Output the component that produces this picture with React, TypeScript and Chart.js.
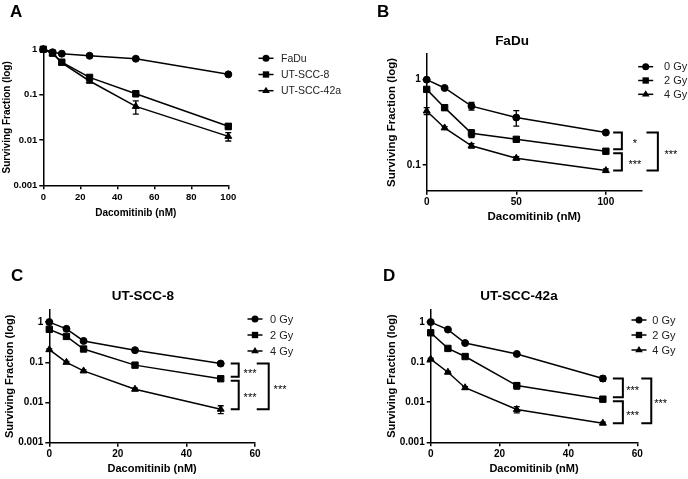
import React, { useEffect, useRef } from "react";
import { Chart, registerables } from "chart.js";
Chart.register(...registerables);

const FONT = "'Liberation Sans', Arial, sans-serif";

// ---------- Panel A ----------
const doseA = [0, 5, 10, 25, 50, 100];
const faduA = [1, 0.86, 0.8, 0.72, 0.62, 0.28];
const faduAErr = [0, 0, 0, 0.02, 0.02, 0.01];
const utscc8A = [1, 0.82, 0.52, 0.24, 0.105, 0.02];
const utscc8AErr = [0, 0.03, 0.03, 0.02, 0.015, 0.003];
const utscc42aA = [1, 0.82, 0.5, 0.2, 0.055, 0.012];
const utscc42aAErr = [0, 0.03, 0.03, 0.02, 0.018, 0.0025];
const cellLinesA = ["FaDu", "UT-SCC-8", "UT-SCC-42a"];
const xTicksA = [0, 20, 40, 60, 80, 100];
const yTicks3 = [0.001, 0.01, 0.1, 1];

// ---------- Panel B (FaDu) ----------
const doseB = [0, 10, 25, 50, 100];
const b0Gy = [1, 0.8, 0.49, 0.36, 0.24];
const b0GyErr = [0, 0.02, 0.05, 0.075, 0.01];
const b2Gy = [0.77, 0.47, 0.235, 0.2, 0.145];
const b2GyErr = [0, 0.03, 0.025, 0.01, 0.008];
const b4Gy = [0.43, 0.272, 0.168, 0.12, 0.086];
const b4GyErr = [0.04, 0.01, 0.01, 0.005, 0.004];
const xTicksB = [0, 50, 100];
const yTicksB = [0.1, 1];
const sigB = ["*", "***", "***"];

// ---------- Panel C (UT-SCC-8) ----------
const doseCD = [0, 5, 10, 25, 50];
const c0Gy = [1, 0.68, 0.34, 0.2, 0.093];
const c0GyErr = [0, 0.03, 0.02, 0.01, 0.006];
const c2Gy = [0.66, 0.44, 0.214, 0.085, 0.039];
const c2GyErr = [0.05, 0.03, 0.015, 0.006, 0.003];
const c4Gy = [0.206, 0.1, 0.061, 0.0214, 0.0068];
const c4GyErr = [0.01, 0.006, 0.004, 0.0015, 0.0015];
const sigC = ["***", "***", "***"];

// ---------- Panel D (UT-SCC-42a) ----------
const d0Gy = [1, 0.65, 0.3, 0.16, 0.039];
const d0GyErr = [0, 0.03, 0.015, 0.01, 0.006];
const d2Gy = [0.54, 0.22, 0.138, 0.026, 0.0119];
const d2GyErr = [0.03, 0.015, 0.01, 0.0047, 0.0008];
const d4Gy = [0.119, 0.056, 0.023, 0.0066, 0.003];
const d4GyErr = [0.006, 0.003, 0.0015, 0.0012, 0.0002];
const sigD = ["***", "***", "***"];

const doseLabels = ["0 Gy", "2 Gy", "4 Gy"];
const xTicksCD = [0, 20, 40, 60];

const markerStyles = ["circle", "rect", "triangle"];
const markerRadius = [3.5, 4.5, 4];

function drawMarker(ctx, style, x, y, r) {
  ctx.beginPath();
  if (style === "circle") {
    ctx.arc(x, y, r, 0, Math.PI * 2);
  } else if (style === "rect") {
    const s = r * Math.SQRT1_2;
    ctx.rect(x - s, y - s, 2 * s, 2 * s);
  } else {
    ctx.moveTo(x, y - r);
    ctx.lineTo(x + r * 0.87 * 1.1, y + r * 0.5 * 1.1);
    ctx.lineTo(x - r * 0.87 * 1.1, y + r * 0.5 * 1.1);
    ctx.closePath();
  }
  ctx.fill();
}

const decorPlugin = {
  id: "decor",
  afterDatasetsDraw(chart) {
    const ctx = chart.ctx;
    const o = chart.options.plugins.decor;
    const xs = chart.scales.x;
    const ys = chart.scales.y;
    ctx.save();
    // error bars
    ctx.strokeStyle = "#000";
    ctx.lineWidth = 1.3;
    chart.data.datasets.forEach((ds) => {
      (ds.errors || []).forEach((e, i) => {
        if (!e) return;
        const p = ds.data[i];
        const px = xs.getPixelForValue(p.x);
        const y1 = ys.getPixelForValue(p.y + e);
        const y2 = ys.getPixelForValue(Math.max(p.y - e, 1e-6));
        ctx.beginPath();
        ctx.moveTo(px, y1);
        ctx.lineTo(px, y2);
        ctx.moveTo(px - 3, y1);
        ctx.lineTo(px + 3, y1);
        ctx.moveTo(px - 3, y2);
        ctx.lineTo(px + 3, y2);
        ctx.stroke();
      });
    });
    // significance brackets
    if (o.brackets) {
      const last = (k) => {
        const d = chart.data.datasets[k].data;
        return d[d.length - 1];
      };
      const lx = xs.getPixelForValue(last(0).x);
      ctx.lineWidth = 2;
      ctx.fillStyle = "#000";
      o.brackets.forEach((b) => {
        let yA = ys.getPixelForValue(last(b.a).y);
        let yB = ys.getPixelForValue(last(b.b).y);
        if (b.gapTop) yA += b.gapTop;
        if (b.gapBottom) yB -= b.gapBottom;
        const x0 = lx + b.x0;
        const x1 = lx + b.x1;
        ctx.beginPath();
        ctx.moveTo(x0, yA);
        ctx.lineTo(x1, yA);
        ctx.lineTo(x1, yB);
        ctx.lineTo(x0, yB);
        ctx.stroke();
        ctx.font = `11px ${FONT}`;
        ctx.textAlign = "center";
        ctx.textBaseline = "alphabetic";
        ctx.fillText(b.label, lx + b.tx, (yA + yB) / 2 + 6.5);
      });
    }
    ctx.restore();
  },
  afterDraw(chart) {
    const ctx = chart.ctx;
    const o = chart.options.plugins.decor;
    ctx.save();
    ctx.fillStyle = "#000";
    ctx.strokeStyle = "#000";
    // panel letter
    ctx.font = `bold 17px ${FONT}`;
    ctx.textAlign = "left";
    ctx.textBaseline = "alphabetic";
    ctx.fillText(o.letter.text, o.letter.x, o.letter.y);
    // title
    if (o.title) {
      ctx.font = `bold 13.5px ${FONT}`;
      ctx.textAlign = "center";
      ctx.textBaseline = "middle";
      ctx.fillText(o.title.text, o.title.x, o.title.y);
    }
    // legend
    const L = o.legend;
    chart.data.datasets.forEach((ds, k) => {
      const y = L.y0 + k * L.dy;
      ctx.lineWidth = 1.5;
      ctx.beginPath();
      ctx.moveTo(L.mx - 7.5, y);
      ctx.lineTo(L.mx + 7.5, y);
      ctx.stroke();
      drawMarker(ctx, markerStyles[k], L.mx, y, markerRadius[k]);
      ctx.font = `${L.fs}px ${FONT}`;
      ctx.fillStyle = "#222";
      ctx.textAlign = "left";
      ctx.textBaseline = "middle";
      ctx.fillText(ds.label, L.tx, y + 0.5);
      ctx.fillStyle = "#000";
    });
    ctx.restore();
  },
};

function buildConfig(p) {
  const W = p.w;
  const H = p.h;
  const a = p.area;
  const yW = a.l - p.yBoxLeft;
  const tickFont = { family: FONT, size: p.tickFs, weight: "bold" };
  const titleFont = { family: FONT, size: p.axisFs, weight: "bold" };
  const datasets = p.series.map((vals, k) => ({
    label: p.names[k],
    data: p.dose.map((d, i) => ({ x: d, y: vals[i] })),
    errors: p.errors[k],
    borderColor: "#000",
    backgroundColor: "#000",
    borderWidth: 1.5,
    pointStyle: markerStyles[k],
    pointRadius: markerRadius[k],
    pointBorderWidth: 1,
    pointHoverRadius: markerRadius[k],
    tension: 0,
    clip: false,
  }));
  return {
    type: "line",
    data: { datasets },
    plugins: [decorPlugin],
    options: {
      responsive: false,
      animation: false,
      devicePixelRatio: 1,
      events: [],
      layout: {
        padding: {
          left: p.yBoxLeft,
          top: a.t,
          right: W - a.r,
          bottom: H - a.b - p.xH,
        },
      },
      plugins: {
        legend: { display: false },
        tooltip: { enabled: false },
        title: { display: false },
        decor: p.decor,
      },
      scales: {
        x: {
          type: "linear",
          min: p.xMin,
          max: p.xMax,
          afterBuildTicks: (s) => {
            s.ticks = p.xTicks.map((v) => ({ value: v }));
          },
          afterFit: (s) => {
            s.height = p.xH;
          },
          grid: {
            display: true,
            drawOnChartArea: false,
            drawTicks: true,
            tickLength: 4,
            color: "#000",
            lineWidth: 1.5,
          },
          border: { display: true, color: "#000", width: 1.5 },
          ticks: {
            font: tickFont,
            color: "#000",
            padding: 2,
            maxRotation: 0,
            autoSkip: false,
            callback: (v) => String(v),
          },
          title: {
            display: true,
            text: "Dacomitinib (nM)",
            font: titleFont,
            color: "#000",
            padding: 0,
          },
        },
        y: {
          type: "logarithmic",
          min: p.yMin,
          max: p.yMax,
          afterBuildTicks: (s) => {
            s.ticks = p.yTicks.map((v) => ({ value: v }));
          },
          afterFit: (s) => {
            s.width = yW;
          },
          grid: {
            display: true,
            drawOnChartArea: false,
            drawTicks: true,
            tickLength: 4,
            color: "#000",
            lineWidth: 1.5,
          },
          border: { display: true, color: "#000", width: 1.5 },
          ticks: {
            font: tickFont,
            color: "#000",
            padding: 2,
            autoSkip: false,
            callback: (v) => String(v),
          },
          title: {
            display: true,
            text: "Surviving Fraction (log)",
            font: titleFont,
            color: "#000",
            padding: 0,
          },
        },
      },
    },
  };
}

const panels = [
  {
    key: "A",
    left: 0,
    top: 0,
    w: 344,
    h: 240,
    area: { l: 43.3, r: 228.3, t: 49.3, b: 185.3 },
    yBoxLeft: 1.5,
    xH: 34,
    tickFs: 9.5,
    axisFs: 10,
    dose: doseA,
    series: [faduA, utscc8A, utscc42aA],
    errors: [faduAErr, utscc8AErr, utscc42aAErr],
    names: cellLinesA,
    xMin: 0,
    xMax: 100,
    xTicks: xTicksA,
    yMin: 0.001,
    yMax: 1,
    yTicks: yTicks3,
    decor: {
      letter: { text: "A", x: 10, y: 17 },
      legend: { mx: 266, tx: 281, y0: 58.3, dy: 16.2, fs: 10.5 },
    },
  },
  {
    key: "B",
    left: 344,
    top: 0,
    w: 344,
    h: 240,
    area: { l: 82.7, r: 297.7, t: 54, b: 190.7 },
    yBoxLeft: 40.9,
    xH: 32.6,
    tickFs: 10,
    axisFs: 11.5,
    dose: doseB,
    series: [b0Gy, b2Gy, b4Gy],
    errors: [b0GyErr, b2GyErr, b4GyErr],
    names: doseLabels,
    xMin: 0,
    xMax: 120,
    xTicks: xTicksB,
    yMin: 0.05,
    yMax: 2,
    yTicks: yTicksB,
    decor: {
      letter: { text: "B", x: 33, y: 17 },
      title: { text: "FaDu", x: 168, y: 41.7 },
      legend: { mx: 301.7, tx: 320, y0: 66.7, dy: 13.8, fs: 11 },
      brackets: [
        { a: 0, b: 1, x0: 7.3, x1: 16, tx: 29, label: sigB[0], gapBottom: 2 },
        { a: 1, b: 2, x0: 7.3, x1: 16, tx: 29, label: sigB[1], gapTop: 2 },
        { a: 0, b: 2, x0: 40.6, x1: 52, tx: 65, label: sigB[2] },
      ],
    },
  },
  {
    key: "C",
    left: 0,
    top: 240,
    w: 344,
    h: 239,
    area: { l: 49.3, r: 255, t: 70, b: 202.7 },
    yBoxLeft: 2.9,
    xH: 32.6,
    tickFs: 10,
    axisFs: 11,
    dose: doseCD,
    series: [c0Gy, c2Gy, c4Gy],
    errors: [c0GyErr, c2GyErr, c4GyErr],
    names: doseLabels,
    xMin: 0,
    xMax: 60,
    xTicks: xTicksCD,
    yMin: 0.001,
    yMax: 2,
    yTicks: yTicks3,
    decor: {
      letter: { text: "C", x: 11, y: 41 },
      title: { text: "UT-SCC-8", x: 143, y: 56.7 },
      legend: { mx: 255, tx: 270, y0: 79, dy: 16, fs: 11 },
      brackets: [
        { a: 0, b: 1, x0: 10, x1: 18, tx: 29.3, label: sigC[0], gapBottom: 2 },
        { a: 1, b: 2, x0: 10, x1: 18, tx: 29.3, label: sigC[1], gapTop: 2 },
        { a: 0, b: 2, x0: 36, x1: 48, tx: 59.3, label: sigC[2] },
      ],
    },
  },
  {
    key: "D",
    left: 344,
    top: 240,
    w: 344,
    h: 239,
    area: { l: 86.7, r: 293.3, t: 70, b: 202.3 },
    yBoxLeft: 40.9,
    xH: 33,
    tickFs: 10,
    axisFs: 11,
    dose: doseCD,
    series: [d0Gy, d2Gy, d4Gy],
    errors: [d0GyErr, d2GyErr, d4GyErr],
    names: doseLabels,
    xMin: 0,
    xMax: 60,
    xTicks: xTicksCD,
    yMin: 0.001,
    yMax: 2,
    yTicks: yTicks3,
    decor: {
      letter: { text: "D", x: 39, y: 41 },
      title: { text: "UT-SCC-42a", x: 175, y: 56.7 },
      legend: { mx: 295, tx: 308.3, y0: 80, dy: 15, fs: 11 },
      brackets: [
        { a: 0, b: 1, x0: 10, x1: 20, tx: 29.7, label: sigD[0], gapBottom: 2 },
        { a: 1, b: 2, x0: 10, x1: 20, tx: 29.7, label: sigD[1], gapTop: 2 },
        { a: 0, b: 2, x0: 38.4, x1: 48.4, tx: 57.7, label: sigD[2] },
      ],
    },
  },
];

function Panel({ p }) {
  const ref = useRef(null);
  useEffect(() => {
    const chart = new Chart(ref.current, buildConfig(p));
    return () => chart.destroy();
  }, []);
  return (
    <div style={{ position: "absolute", left: p.left, top: p.top, width: p.w, height: p.h }}>
      <canvas ref={ref} width={p.w} height={p.h} style={{ width: p.w, height: p.h, display: "block" }} />
    </div>
  );
}

export default function App() {
  return (
    <div style={{ position: "absolute", left: 0, top: 0, width: 688, height: 479, background: "#fff" }}>
      {panels.map((p) => (
        <Panel key={p.key} p={p} />
      ))}
    </div>
  );
}
